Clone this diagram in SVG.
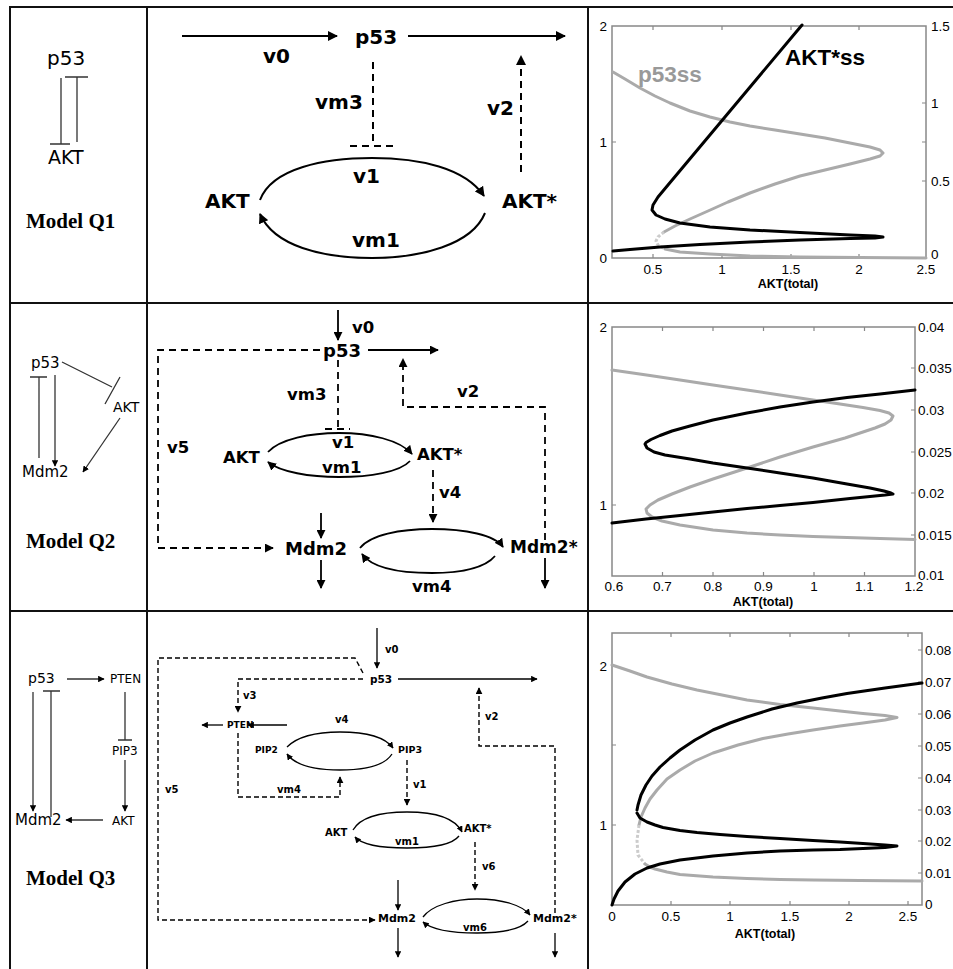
<svg xmlns="http://www.w3.org/2000/svg" width="953" height="969" viewBox="0 0 953 969">
<style>
.bd{stroke:#111;stroke-width:2;fill:none}
.ln{stroke:#000;fill:none}
.dl{stroke:#000;fill:none;stroke-dasharray:7 5}
.ds{stroke:#000;fill:none;stroke-width:1.4;stroke-dasharray:5 3}
.lc{stroke:#333;fill:none;stroke-width:1.3}
.b1{font-family:"DejaVu Sans",sans-serif;font-weight:bold;font-size:20px;fill:#000}
.b2{font-family:"DejaVu Sans",sans-serif;font-weight:bold;font-size:16.5px;fill:#000}
.b3{font-family:"DejaVu Sans",sans-serif;font-weight:bold;font-size:10px;fill:#000}
.lt{font-family:"DejaVu Sans",sans-serif;fill:#000}
.mdl{font-family:"Liberation Serif",serif;font-weight:bold;font-size:21px;fill:#000}
.ax{font-family:"Liberation Sans",Arial,sans-serif;font-size:13.5px;fill:#000}
.axb{font-family:"Liberation Sans",Arial,sans-serif;font-weight:bold;font-size:12.5px;fill:#000}
.big{font-family:"Liberation Sans",Arial,sans-serif;font-weight:bold;font-size:22.5px}
.box{stroke:#888;stroke-width:1.5;fill:none}
.tk{stroke:#888;stroke-width:1.2}
.cb{stroke:#000;stroke-width:3;fill:none;stroke-linejoin:round;stroke-linecap:round}
.cg{stroke:#aaa;stroke-width:3;fill:none;stroke-linejoin:round;stroke-linecap:round}
.cf{stroke:#ccc;stroke-width:3;fill:none;stroke-linejoin:round;stroke-dasharray:3 2}
</style>
<defs>
<marker id="ah" viewBox="0 0 10 10" refX="9" refY="5" markerWidth="5" markerHeight="5" orient="auto">
<path d="M0,0 L10,5 L0,10 z" fill="#000"/>
</marker>
</defs>
<rect width="953" height="969" fill="#fff"/>

<g id="table">
<path class="bd" d="M10,969 V7 H953"/>
<path class="bd" d="M147,7 V969 M588,7 V969"/>
<path class="bd" d="M10,303 H953 M10,611 H953"/>
</g>

<!-- Row 1 -->
<g id="q1-scheme">
<text class="lt" x="47" y="65" font-size="20">p53</text>
<text class="lt" x="48" y="164" font-size="19">AKT</text>
<path class="lc" d="M61,78 V144 M50,144 H70 M77,77 V142 M65,77 H88"/>
<text class="mdl" x="26" y="228">Model Q1</text>
</g>

<g id="q1-net">
<g id="q1-p53"><text class="b1" x="355" y="44">p53</text></g>
<g id="q1-akt"><text class="b1" x="205" y="208">AKT</text></g>
<g id="q1-aktp"><text class="b1" x="502" y="208">AKT*</text></g>
<g id="q1-conn">
<path class="ln" stroke-width="2" d="M182,36 H337" marker-end="url(#ah)"/>
<path class="ln" stroke-width="2" d="M408,36 H565" marker-end="url(#ah)"/>
<path class="dl" stroke-width="2" d="M373,62 V146 M350,146 H396"/>
<path class="dl" stroke-width="2" d="M521,172 V56" marker-end="url(#ah)"/>
<path class="ln" stroke-width="2" d="M260,200 C272,168 325,158 372,158 C420,158 465,168 484,196" marker-end="url(#ah)"/>
<path class="ln" stroke-width="2" d="M485,213 C472,245 420,258 372,258 C322,258 274,246 260,214" marker-end="url(#ah)"/>
</g>
<text class="b1" x="263" y="63">v0</text>
<text class="b1" x="315" y="109">vm3</text>
<text class="b1" x="487" y="115">v2</text>
<text class="b1" x="353" y="183">v1</text>
<text class="b1" x="352" y="247">vm1</text>
</g>

<g id="q1-plot">
<rect class="box" x="612" y="26" width="314" height="232"/>
<path class="tk" d="M653,258 v-4 M722,258 v-4 M791,258 v-4 M859,258 v-4 M653,26 v4 M722,26 v4 M791,26 v4 M859,26 v4 M612,142 h4 M926,142 h-4 M926,103 h-4 M926,181 h-4"/>
<polyline class="cg" points="613,72 625,79 640,88 655,96 670,103 690,111 710,117 730,122 750,126 775,130 800,134 825,138 850,143 870,147 880,150 883,153 880,156 870,159 850,164 825,170 800,176 775,184 750,193 728,202 708,211 690,219 675,226 664,232"/>
<polyline class="cf" points="664,232 658,237 656,241 658,245 665,249"/>
<polyline class="cg" points="665,249 680,252 710,254 750,256 800,257 860,257.5 926,258"/>
<polyline class="cb" points="802,25 668,185 658,197 653,205 652,210 656,215 665,219 680,223 710,227 750,230 800,232.5 850,235 875,236 883,237 875,238 850,238.5 800,240 750,242 700,244.5 660,247 630,249.5 613,251"/>
<text class="big" x="638" y="82" style="fill:#999">p53ss</text>
<text class="big" x="785" y="65" style="fill:#000">AKT*ss</text>
<text class="ax" x="607" y="31" text-anchor="end">2</text>
<text class="ax" x="607" y="147" text-anchor="end">1</text>
<text class="ax" x="607" y="263" text-anchor="end">0</text>
<text class="ax" x="931" y="31">1.5</text>
<text class="ax" x="931" y="108">1</text>
<text class="ax" x="931" y="186">0.5</text>
<text class="ax" x="931" y="259">0</text>
<text class="ax" x="653" y="274" text-anchor="middle">0.5</text>
<text class="ax" x="722" y="274" text-anchor="middle">1</text>
<text class="ax" x="791" y="274" text-anchor="middle">1.5</text>
<text class="ax" x="859" y="274" text-anchor="middle">2</text>
<text class="ax" x="926" y="274" text-anchor="middle">2.5</text>
<text class="axb" x="788" y="288" text-anchor="middle">AKT(total)</text>
</g>

<!-- Row 2 -->
<g id="q2-scheme">
<text class="lt" x="31" y="368" font-size="15">p53</text>
<text class="lt" x="113" y="412" font-size="14">AKT</text>
<text class="lt" x="22" y="477" font-size="15">Mdm2</text>
<path class="lc" d="M62,362 L112,387 M120,377 L105,404 M39,377 V458 M30,377 H47"/>
<path class="lc" d="M55,375 V466" marker-end="url(#ah)"/>
<path class="lc" d="M120,418 L83,472" marker-end="url(#ah)"/>
<text class="mdl" x="26" y="548">Model Q2</text>
</g>

<g id="q2-net">
<g id="q2-p53"><text class="b2" x="323" y="357" style="font-size:18px">p53</text></g>
<g id="q2-akt"><text class="b2" x="223" y="463">AKT</text></g>
<g id="q2-aktp"><text class="b2" x="417" y="460">AKT*</text></g>
<g id="q2-mdm2"><text class="b2" x="285" y="555" style="font-size:18px">Mdm2</text></g>
<g id="q2-mdm2p"><text class="b2" x="510" y="553" style="font-size:17px">Mdm2*</text></g>
<g id="q2-conn">
<path class="ln" stroke-width="1.8" d="M338,310 V340" marker-end="url(#ah)"/>
<path class="ln" stroke-width="1.8" d="M368,350 H438" marker-end="url(#ah)"/>
<path class="dl" stroke-width="1.8" d="M320,350 H158 V548 H273" marker-end="url(#ah)"/>
<path class="dl" stroke-width="1.8" d="M338,360 V428 M325,429 H350"/>
<path class="dl" stroke-width="1.8" d="M545,540 V407 H403 V359" marker-end="url(#ah)"/>
<path class="ln" stroke-width="1.8" d="M268,452 C280,439 310,433 339,433 C370,433 400,440 412,454" marker-end="url(#ah)"/>
<path class="ln" stroke-width="1.8" d="M410,461 C400,472 370,477 339,477 C310,477 280,472 268,462" marker-end="url(#ah)"/>
<path class="dl" stroke-width="1.8" d="M433,470 V522" marker-end="url(#ah)"/>
<path class="ln" stroke-width="1.8" d="M321,513 V538" marker-end="url(#ah)"/>
<path class="ln" stroke-width="1.8" d="M321,560 V588" marker-end="url(#ah)"/>
<path class="ln" stroke-width="1.8" d="M360,548 C370,535 400,529 432,529 C465,529 495,535 503,547" marker-end="url(#ah)"/>
<path class="ln" stroke-width="1.8" d="M495,556 C485,568 460,573 432,573 C400,573 372,568 362,554" marker-end="url(#ah)"/>
<path class="ln" stroke-width="1.8" d="M545,558 V588" marker-end="url(#ah)"/>
</g>
<text class="b2" x="352" y="333">v0</text>
<text class="b2" x="287" y="400">vm3</text>
<text class="b2" x="457" y="397">v2</text>
<text class="b2" x="167" y="453">v5</text>
<text class="b2" x="332" y="448">v1</text>
<text class="b2" x="322" y="473">vm1</text>
<text class="b2" x="439" y="498">v4</text>
<text class="b2" x="412" y="592">vm4</text>
</g>

<g id="q2-plot">
<rect class="box" x="612" y="327" width="303" height="249"/>
<path class="tk" d="M662.5,576 v-4 M713,576 v-4 M763.5,576 v-4 M814,576 v-4 M864.5,576 v-4 M662.5,327 v4 M713,327 v4 M763.5,327 v4 M814,327 v4 M864.5,327 v4 M612,505 h4 M915,368 h-4 M915,410 h-4 M915,452 h-4 M915,493 h-4 M915,535 h-4"/>
<polyline class="cg" points="612,370 650,375.5 680,380 713,385 747,390 780,395 813,400 840,404 863,407.5 880,410.5 889,413 893,416 891,420 885,424 875,428 863,432 845,438 813,447 780,457 747,468 713,479 690,487 672,494 658,500 650,505 646,509 647,513 652,517 662,521 680,525 713,530 747,533 780,535 813,536.5 847,537.5 880,538.5 915,539.5"/>
<polyline class="cb" points="915,390 880,394 847,397.5 813,402 780,407 747,413 713,420 690,426 672,431 660,435.5 651,439.5 646,442.5 645,444 647,448 654,452 665,455 690,459 713,463 747,468 780,473 813,478 847,484 870,488 884,491 891,493 893,494 885,495 870,496.5 850,498.5 813,502.5 780,505.5 747,508.5 713,512 680,515.5 646,519 612,523"/>
<text class="ax" x="607" y="332" text-anchor="end">2</text>
<text class="ax" x="607" y="510" text-anchor="end">1</text>
<text class="ax" x="918" y="332">0.04</text>
<text class="ax" x="918" y="373">0.035</text>
<text class="ax" x="918" y="415">0.03</text>
<text class="ax" x="918" y="457">0.025</text>
<text class="ax" x="918" y="498">0.02</text>
<text class="ax" x="918" y="540">0.015</text>
<text class="ax" x="918" y="580">0.01</text>
<text class="ax" x="614" y="591" text-anchor="middle">0.6</text>
<text class="ax" x="662.5" y="591" text-anchor="middle">0.7</text>
<text class="ax" x="713" y="591" text-anchor="middle">0.8</text>
<text class="ax" x="763.5" y="591" text-anchor="middle">0.9</text>
<text class="ax" x="814" y="591" text-anchor="middle">1</text>
<text class="ax" x="864.5" y="591" text-anchor="middle">1.1</text>
<text class="ax" x="914" y="591" text-anchor="middle">1.2</text>
<text class="axb" x="763" y="606" text-anchor="middle">AKT(total)</text>
</g>

<!-- Row 3 -->
<g id="q3-scheme">
<text class="lt" x="28" y="683" font-size="14">p53</text>
<text class="lt" x="110" y="683" font-size="12">PTEN</text>
<text class="lt" x="112" y="755" font-size="12">PIP3</text>
<text class="lt" x="112" y="825" font-size="12">AKT</text>
<text class="lt" x="15" y="825" font-size="15">Mdm2</text>
<path class="lc" d="M67,679 H104" marker-end="url(#ah)"/>
<path class="lc" d="M125,692 V740 M118,740 H132"/>
<path class="lc" d="M125,760 V811" marker-end="url(#ah)"/>
<path class="lc" d="M103,820 H66" marker-end="url(#ah)"/>
<path class="lc" d="M33,692 V811" marker-end="url(#ah)"/>
<path class="lc" d="M51,817 V691 M43,691 H60"/>
<text class="mdl" x="26" y="885">Model Q3</text>
</g>

<g id="q3-net">
<g id="q3-p53"><text class="b3" x="370" y="683" style="font-size:10.5px">p53</text></g>
<g id="q3-pten"><text class="b3" x="227" y="728" style="font-size:9px">PTEN</text></g>
<g id="q3-pip2"><text class="b3" x="255" y="753" style="font-size:9px">PIP2</text></g>
<g id="q3-pip3"><text class="b3" x="398" y="753" style="font-size:9.5px">PIP3</text></g>
<g id="q3-akt"><text class="b3" x="325" y="836">AKT</text></g>
<g id="q3-aktp"><text class="b3" x="464" y="832">AKT*</text></g>
<g id="q3-mdm2"><text class="b3" x="378" y="922" style="font-size:11px">Mdm2</text></g>
<g id="q3-mdm2p"><text class="b3" x="533" y="922" style="font-size:11px">Mdm2*</text></g>
<g id="q3-conn">
<path class="ln" stroke-width="1.3" d="M377,628 V668" marker-end="url(#ah)"/>
<path class="ln" stroke-width="1.3" d="M398,679 H537" marker-end="url(#ah)"/>
<path class="ds" d="M363,673 L355,658 H158 V920 H375" marker-end="url(#ah)"/>
<path class="ds" d="M363,679 H238 V712" marker-end="url(#ah)"/>
<path class="ln" stroke-width="1.3" d="M223,725 H202" marker-end="url(#ah)"/>
<path class="ln" stroke-width="1.3" d="M287,725 H248" marker-end="url(#ah)"/>
<path class="ds" d="M238,733 V797 H340 V777" marker-end="url(#ah)"/>
<path class="ln" stroke-width="1.3" d="M287,747 C297,737 315,732 340,732 C365,732 385,737 393,748" marker-end="url(#ah)"/>
<path class="ln" stroke-width="1.3" d="M392,754 C385,765 365,770 340,770 C315,770 295,765 287,754" marker-end="url(#ah)"/>
<path class="ds" d="M407,760 V805" marker-end="url(#ah)"/>
<path class="ln" stroke-width="1.3" d="M353,830 C360,818 380,812 407,812 C435,812 455,818 462,832" marker-end="url(#ah)"/>
<path class="ln" stroke-width="1.3" d="M459,836 C452,845 430,848 407,848 C383,848 362,845 355,837" marker-end="url(#ah)"/>
<path class="ds" d="M475,842 V890" marker-end="url(#ah)"/>
<path class="ln" stroke-width="1.3" d="M398,880 V910" marker-end="url(#ah)"/>
<path class="ln" stroke-width="1.3" d="M398,928 V957" marker-end="url(#ah)"/>
<path class="ln" stroke-width="1.3" d="M423,917 C432,905 455,899 477,899 C502,899 522,905 530,915" marker-end="url(#ah)"/>
<path class="ln" stroke-width="1.3" d="M528,921 C520,930 500,933 477,933 C455,933 432,930 423,922" marker-end="url(#ah)"/>
<path class="ds" d="M555,913 V746 H479 V688" marker-end="url(#ah)"/>
<path class="ln" stroke-width="1.3" d="M555,933 V957" marker-end="url(#ah)"/>
</g>
<text class="b3" x="385" y="653">v0</text>
<text class="b3" x="243" y="699">v3</text>
<text class="b3" x="485" y="720">v2</text>
<text class="b3" x="335" y="723">v4</text>
<text class="b3" x="413" y="788">v1</text>
<text class="b3" x="277" y="793">vm4</text>
<text class="b3" x="165" y="793">v5</text>
<text class="b3" x="395" y="845">vm1</text>
<text class="b3" x="482" y="870">v6</text>
<text class="b3" x="463" y="931">vm6</text>
</g>

<g id="q3-plot">
<rect class="box" x="612" y="633" width="310" height="272"/>
<path class="tk" d="M671,905 v-4 M730,905 v-4 M790,905 v-4 M849,905 v-4 M908,905 v-4 M671,633 v4 M730,633 v4 M790,633 v4 M849,633 v4 M908,633 v4 M612,666 h4 M612,825 h4 M612,745 h4 M922,650 h-4 M922,682 h-4 M922,714 h-4 M922,746 h-4 M922,778 h-4 M922,810 h-4 M922,841 h-4 M922,873 h-4"/>
<polyline class="cg" points="612,665 630,671 647,677 672,684 697,690 722,695 747,700 780,704.5 813,708 840,711 863,713.5 885,715.5 897,717.5 885,720 863,723 840,726 813,730 788,734 763,738.5 738,745 713,753 695,761 680,770 667,779 657,790 650,799 645,808 641,817 639,825"/>
<polyline class="cf" points="639,825 637,840 638,855 645,864"/>
<polyline class="cg" points="645,864 650,867 655,869 667,872 680,874.5 713,877 747,878.5 780,879.5 813,880 860,880.5 922,881"/>
<polyline class="cb" points="637,813 640,818 647,822 655,825 663,827.5 680,830.5 697,832.5 720,834.5 747,836.5 780,838.5 813,840.5 840,842 863,843.5 885,845 897,846 885,847.5 863,848.5 840,849.5 813,850 780,851 747,853 713,856 680,860 660,864 647,868 635,874 625,882 618,891 614,899 612,905"/>
<polyline class="cb" points="637,810 638,805 641,795 646,785 652,776 660,767 670,758 680,750 695,740 713,730 730,723 747,717 772,709 797,703 822,698 847,693.5 885,688 922,683"/>
<text class="ax" x="607" y="671" text-anchor="end">2</text>
<text class="ax" x="607" y="830" text-anchor="end">1</text>
<text class="ax" x="925" y="655">0.08</text>
<text class="ax" x="925" y="687">0.07</text>
<text class="ax" x="925" y="719">0.06</text>
<text class="ax" x="925" y="751">0.05</text>
<text class="ax" x="925" y="783">0.04</text>
<text class="ax" x="925" y="815">0.03</text>
<text class="ax" x="925" y="846">0.02</text>
<text class="ax" x="925" y="878">0.01</text>
<text class="ax" x="925" y="909">0</text>
<text class="ax" x="612" y="921" text-anchor="middle">0</text>
<text class="ax" x="671" y="921" text-anchor="middle">0.5</text>
<text class="ax" x="730" y="921" text-anchor="middle">1</text>
<text class="ax" x="790" y="921" text-anchor="middle">1.5</text>
<text class="ax" x="849" y="921" text-anchor="middle">2</text>
<text class="ax" x="908" y="921" text-anchor="middle">2.5</text>
<text class="axb" x="765" y="938" text-anchor="middle">AKT(total)</text>
</g>
</svg>
